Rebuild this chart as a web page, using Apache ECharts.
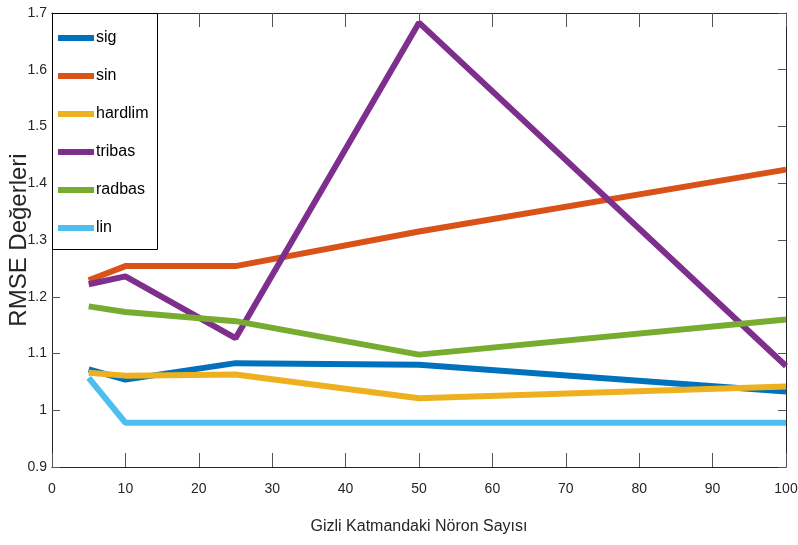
<!DOCTYPE html>
<html><head><meta charset="utf-8">
<script src="https://cdn.jsdelivr.net/npm/echarts@6/dist/echarts.min.js"></script>
<style>html,body{margin:0;padding:0;background:#fff}#c{width:798px;height:545px}</style>
</head><body><div id="c"></div>
<script>
var neurons = [5, 10, 25, 50, 100];
var sig     = [1.072, 1.054, 1.083, 1.080, 1.033];
var sin     = [1.229, 1.254, 1.254, 1.315, 1.424];
var hardlim = [1.066, 1.061, 1.063, 1.021, 1.042];
var tribas  = [1.222, 1.236, 1.127, 1.683, 1.078];
var radbas  = [1.183, 1.173, 1.157, 1.098, 1.160];
var lin     = [1.057, 0.978, 0.978, 0.978, 0.978];
var names = ['sig','sin','hardlim','tribas','radbas','lin'];
var values = [sig, sin, hardlim, tribas, radbas, lin];
var colors = ['#0072BD','#D95319','#EDB120','#7E2F8E','#77AC30','#4DBEEE'];
var xTitle = 'Gizli Katmandaki Nöron Sayısı';
var yTitle = 'RMSE Değerleri';

var font = '"Liberation Sans", Arial, sans-serif';
var axisCol = '#262626';

var series = names.map(function (n, i) {
  return {
    name: n, type: 'line', xAxisIndex: 0, yAxisIndex: 0,
    data: neurons.map(function (x, j) { return [x, values[i][j]]; }),
    symbol: 'none', lineStyle: { width: 6, color: colors[i] },
    itemStyle: { color: colors[i] }, z: 3 + i
  };
});

var chart = echarts.init(document.getElementById('c'), null, { renderer: 'canvas' });
chart.setOption({
  backgroundColor: '#fff',
  animation: false,
  grid: { left: 52, right: 12, top: 13, bottom: 78, show: false, containLabel: false, outerBoundsMode: 'none' },
  graphic: [{
    type: 'rect', left: 52, top: 13, z: 100,
    shape: { width: 105, height: 236 },
    style: { fill: '#fff', stroke: '#000', lineWidth: 1 }
  }],
  legend: {
    orient: 'vertical', left: 58, top: 28, z: 101, padding: 0,
    itemWidth: 36, itemHeight: 6, itemGap: 18,
    icon: 'rect',
    data: names,
    textStyle: { fontFamily: font, fontSize: 16, color: '#000', padding: [0, 0, 0, -3], lineHeight: 20 }
  },
  xAxis: [{
    type: 'value', min: 0, max: 100, interval: 10, position: 'bottom',
    name: xTitle, nameLocation: 'middle', nameGap: 52, nameMoveOverlap: false,
    nameTextStyle: { fontFamily: font, fontSize: 16, color: axisCol },
    axisLine: { show: true, onZero: false, lineStyle: { color: axisCol, width: 1 } },
    axisTick: { show: true, inside: true, length: 14, lineStyle: { color: '#555' } },
    axisLabel: { fontFamily: font, fontSize: 14, color: axisCol, margin: 15 },
    splitLine: { show: false }
  }, {
    type: 'value', min: 0, max: 100, interval: 10, position: 'top',
    axisLine: { show: true, onZero: false, lineStyle: { color: axisCol, width: 1 } },
    axisTick: { show: true, inside: true, length: 14, lineStyle: { color: '#555' } },
    axisLabel: { show: false }, splitLine: { show: false }
  }],
  yAxis: [{
    type: 'value', min: 0.9, max: 1.7, interval: 0.1, position: 'left',
    name: yTitle, nameLocation: 'middle', nameGap: 21, nameMoveOverlap: false,
    nameTextStyle: { fontFamily: font, fontSize: 24, color: axisCol },
    axisLine: { show: true, onZero: false, lineStyle: { color: axisCol, width: 1 } },
    axisTick: { show: true, inside: true, length: 8, lineStyle: { color: '#555' } },
    axisLabel: { fontFamily: font, fontSize: 14, color: axisCol, margin: 5,
      formatter: function (v) { return Math.abs(v - 1) < 1e-9 ? '1' : (+v.toFixed(1)).toString(); } },
    splitLine: { show: false }
  }, {
    type: 'value', min: 0.9, max: 1.7, interval: 0.1, position: 'right',
    axisLine: { show: true, onZero: false, lineStyle: { color: axisCol, width: 1 } },
    axisTick: { show: true, inside: true, length: 8, lineStyle: { color: '#555' } },
    axisLabel: { show: false }, splitLine: { show: false }
  }],
  series: series
});
</script></body></html>
